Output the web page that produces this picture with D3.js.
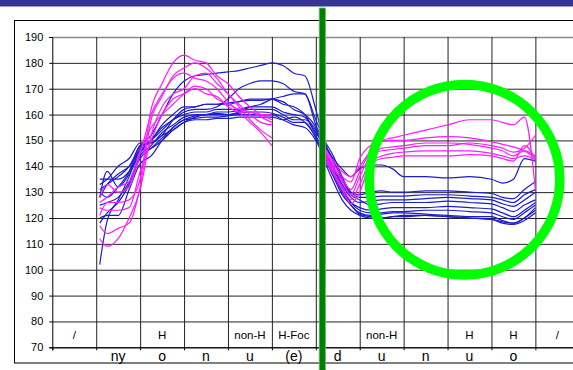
<!DOCTYPE html>
<html><head><meta charset="utf-8">
<script src="https://cdn.jsdelivr.net/npm/d3@7"></script>
<style>html,body{margin:0;padding:0;background:#fff;}svg{display:block;font-family:Arial,"Liberation Sans",sans-serif;}</style>
</head><body>
<svg id="c" width="573" height="370"></svg>
<script>
// ---- data ----
const yTicks = [70,80,90,100,110,120,130,140,150,160,170,180,190];
const lowerLabels = ["", "ny", "o", "n", "u", "(e)", "d", "u", "n", "u", "o", ""];
const upperLabels = ["/", "", "H", "", "non-H", "H-Foc", "", "non-H", "", "H", "H", "/"];
// sample positions along the category axis (in category-cell units)
const xPos = [1.08,1.25,1.5,1.75,2.0,2.25,2.5,2.75,3.0,3.25,3.5,3.75,4.0,4.25,4.5,4.75,5.0,5.25,5.5,5.75,6.0,
              6.2,6.4,6.6,6.8,7.0,7.25,7.5,7.75,8.0,8.5,9.0,9.5,10.0,10.25,10.5,10.75,11.0];
const b1  = [131,133,136,140,148,152,160,168,173,175,175.5,176,176.5,177,178,179,180,179,176,175,162, 149,143,139,136,139,140.5,140.5,139,136,136,135.5,136,135,133.5,135,143,142];
const b2  = [128,138,132,137,145,150,155,158,161,162,162,163,166,170,172,173,173,172,169,168,158, 150,144,136,130,129,130,130.5,130,130,130.5,130.5,130,129.5,128,127.5,131,134];
const b3  = [135,135,135,138,146,150,156,160,163,163,164,164,164,165,166,166,166,165,162,160,155, 146,140,133,128,126,126.5,127,127,127,127.5,128,127.5,127,125.5,124.5,127,130];
const b4  = [130,128,132,138,148,149,152,158,162,163,164,164,164.5,165,165.5,165.5,166,164,163,160,153, 148,142,135,129,127,125,125.5,126,126,126,126.5,126,125.5,124,122.5,125,127];
const b5  = [102,119,127,136,147,150,154,158,160,161,161,162,162,162,163,163,163,161,160,159,152, 145,138,131,126,124,123,123.5,124,124,124,124.5,124,123.5,122,120.5,123,126];
const b6  = [125,126,128,134,144,148,153,156,159,160,160,161,161,161.5,162,162,162,160,158,158,154, 146,139,132,126,123,122,122,122.5,122.5,123,123,122.5,122,120.5,119.5,122,125];
const b7  = [120,121,121,131,141,144,150,155,158,159.5,160,160.5,160,160.5,161,161,160.5,159,157,157,151, 144,137,130,125,122,121,121.5,122,122,121.5,121,120.5,120.5,119,118,120,124];
const b8  = [118,122,126,133,143,147,151,155,158,158.5,159,159,159.5,160,160,160,160,158,156,155,150, 143,136,129,125,121.5,120.5,120,120.5,121,121,120.5,120,119.5,118.5,118,120,123];
const b9  = [128,133,137,140,146,147,150,154,157,158,158,158.5,158.5,159,159,159,159,158,159,157,151, 142,134,127,123,121,120,120,120.5,120.5,121,120.5,120,119.5,118,117.5,119,122];
const b10 = [133,135,140,143,149,149,152,154,157,159,160,160,160,161,163,164,166,167,168,168,156, 149,142,135,130,128,128,128.5,128.5,128.5,129,129,128.5,128,127,126,129,131];
const m1 = [121,126,126,127,135,162,172,180,183,181,180,175,172,167,163,160,158, null,null,null,null, 147,142,138,136,140,146,150,151,152,154,156,158,158,157,156,159,131];
const m2 = [117,114,116,118,132,158,167,175,178,180,178,174,168,164,160,157,156, null,null,null,null, 146,141,136,134,143,148,149.5,150,150,151,151.5,151,149.5,148.5,147.5,146,143];
const m3 = [128,133,130,132,145,160,168,174,176,174,173,170,165,161,157,153,148, null,null,null,null, 145,139,135,131,138,145,146,146.5,147,148,148,149,148,147,145.5,147,152];
const m4 = [112,109,112,120,131,152,163,168,170,175,176,172,168,163,158,154,151, null,null,null,null, 144,138,132,127,133,142,144,145,145.5,146,146,146,145,144,143,144,142.5];
const m5 = [124,123,123,124,138,150,160,166,168,170,168,167,163,161,161,159,157, null,null,null,null, 143,137,131,125.5,130,141,143,143.5,144,144,144,144.5,144,143,142,148,143];
const m6 = [126,128,132,134,146,155,160,164,168,171,170,166,164,162,161,160,160, null,null,null,null, 146,140,134,129,136,144,147,147.5,148,149,149,148.5,147,146,144,146,144];
const blueSeries = [b1,b2,b3,b4,b5,b6,b7,b8,b9,b10];
const magentaSeries = [m1,m2,m3,m4,m5,m6];

// ---- drawing ----
const svg = d3.select("#c");
svg.append("rect").attr("x",0).attr("y",0).attr("width",573).attr("height",6.5).attr("fill","#363594");
svg.append("rect").attr("x",14.5).attr("y",20.5).attr("width",600).attr("height",342.5)
  .attr("fill","none").attr("stroke","#000").attr("stroke-width",1);

const x = d3.scaleLinear().domain([0,12]).range([52.3,579.3]);
const y = d3.scaleLinear().domain([70,190]).range([347.3,37]);

// horizontal gridlines
const gy = svg.append("g").attr("transform","translate(52.3,0)")
  .call(d3.axisLeft(y).tickValues(yTicks).tickSize(-530).tickFormat(""));
gy.select(".domain").remove();
gy.selectAll(".tick line").attr("stroke",d=>d===190?"#8a8a8a":"#222").attr("stroke-width",d=>d===190?1.3:1);

// vertical gridlines
const gx = svg.append("g").attr("transform","translate(0,37)")
  .call(d3.axisBottom(x).tickValues(d3.range(1,13)).tickSize(310.3).tickFormat(""));
gx.select(".domain").remove();
gx.selectAll(".tick line").attr("stroke","#222");

// y axis
const ya = svg.append("g").attr("transform","translate(52.3,0)")
  .call(d3.axisLeft(y).tickValues(yTicks).tickSize(3).tickPadding(6));
ya.select(".domain").attr("stroke","#000");
ya.selectAll("text").attr("font-size",11).attr("fill","#000").attr("font-family","Arial, 'Liberation Sans', sans-serif");

// x axis
const xa = svg.append("g").attr("transform","translate(0,347.3)")
  .call(d3.axisBottom(x).tickValues(d3.range(0,13)).tickSize(3).tickFormat(""));
xa.select(".domain").attr("stroke","#000");

// category labels
svg.append("g").selectAll("text").data(lowerLabels).join("text")
  .attr("x",(d,i)=>x(i+0.5)).attr("y",361).attr("text-anchor","middle")
  .attr("font-size",14).attr("fill","#000").text(d=>d);
svg.append("g").selectAll("text").data(upperLabels).join("text")
  .attr("x",(d,i)=>x(i+0.5)).attr("y",339).attr("text-anchor","middle")
  .attr("font-size",11.5).attr("fill","#000").text(d=>d);

// series
const line = d3.line().defined(d=>d[1]!=null).x(d=>x(d[0])).y(d=>y(d[1])).curve(d3.curveMonotoneX);
const lg = svg.append("g").attr("fill","none");
blueSeries.forEach(s=>{
  lg.append("path").attr("d",line(s.map((v,i)=>[xPos[i],v]))).attr("stroke","#1c1cd0").attr("stroke-width",1.2);
});
magentaSeries.forEach(s=>{
  lg.append("path").attr("d",line(s.map((v,i)=>[xPos[i],v]))).attr("stroke","#ff1aff").attr("stroke-width",1.2);
});

// annotations
svg.append("rect").attr("x",319.2).attr("y",8).attr("width",6.2).attr("height",370)
  .attr("fill","#008000").attr("stroke","#70b870").attr("stroke-width",0.8);
svg.append("circle").attr("cx",464.5).attr("cy",179.7).attr("r",95.3)
  .attr("fill","none").attr("stroke","#00ff00").attr("stroke-width",9.5);
</script>
</body></html>
